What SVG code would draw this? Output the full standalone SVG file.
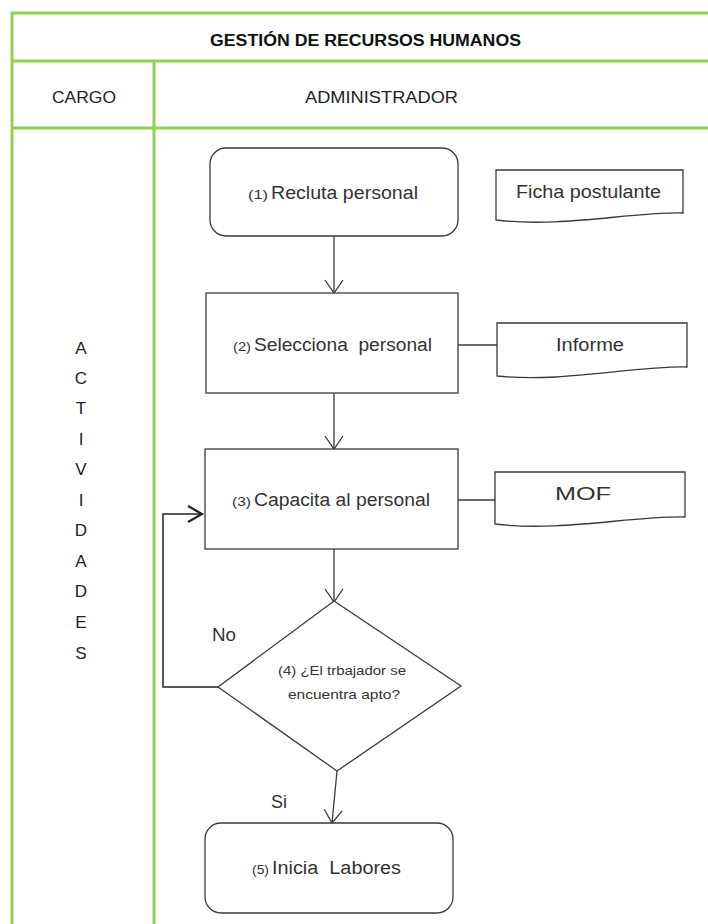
<svg xmlns="http://www.w3.org/2000/svg" width="708" height="924" viewBox="0 0 708 924">
  <style>
    .grid { stroke: #92D050; stroke-width: 3; fill: none; }
    .shape { fill: #ffffff; stroke: #3a3a3a; stroke-width: 1.3; }
    .flow { stroke: #3a3a3a; stroke-width: 1.3; fill: none; }
    .loop { stroke: #222; stroke-width: 1.5; fill: none; }
    .t { font-family: "Liberation Sans", Arial, sans-serif; fill: #333; }
    .lbl { font-size: 18px; }
    .num { font-size: 13px; }
    .head { font-size: 17px; fill: #222; }
    .title { font-size: 16px; font-weight: bold; fill: #111; }
    .dec { font-size: 13px; }
  </style>
  <defs>
    <marker id="vee" markerWidth="16" markerHeight="20" refX="14" refY="10" orient="auto" markerUnits="userSpaceOnUse">
      <path d="M1,1 L14,10 L1,19" fill="none" stroke="#3a3a3a" stroke-width="1.3"/>
    </marker>
    <marker id="vee-bold" markerWidth="18" markerHeight="20" refX="15" refY="10" orient="auto" markerUnits="userSpaceOnUse">
      <path d="M1,2 L15,10 L1,18" fill="none" stroke="#222" stroke-width="2.2"/>
    </marker>
  </defs>

  <rect width="708" height="924" fill="#ffffff"/>

  <!-- swimlane table -->
  <g id="table">
    <path class="grid" d="M12,924 V13 H708"/>
    <line class="grid" x1="12" y1="61" x2="708" y2="61"/>
    <line class="grid" x1="12" y1="128" x2="708" y2="128"/>
    <line class="grid" x1="154" y1="61" x2="154" y2="924"/>
    <text class="t title" x="210" y="46" textLength="311" lengthAdjust="spacingAndGlyphs">GESTIÓN DE RECURSOS HUMANOS</text>
    <text class="t head" x="52" y="103" textLength="64" lengthAdjust="spacingAndGlyphs">CARGO</text>
    <text class="t head" x="305" y="103" textLength="153" lengthAdjust="spacingAndGlyphs">ADMINISTRADOR</text>
    <g class="t head" text-anchor="middle">
      <text x="81" y="354">A</text>
      <text x="81" y="384">C</text>
      <text x="81" y="414">T</text>
      <text x="81" y="445">I</text>
      <text x="81" y="475">V</text>
      <text x="81" y="506">I</text>
      <text x="81" y="536">D</text>
      <text x="81" y="567">A</text>
      <text x="81" y="597">D</text>
      <text x="81" y="628">E</text>
      <text x="81" y="659">S</text>
    </g>
  </g>

  <!-- connectors -->
  <g id="connectors">
    <line class="flow" x1="334" y1="236" x2="334" y2="293" marker-end="url(#vee)"/>
    <line class="flow" x1="334" y1="393" x2="334" y2="449" marker-end="url(#vee)"/>
    <line class="flow" x1="334" y1="549" x2="334" y2="602" marker-end="url(#vee)"/>
    <line class="flow" x1="337" y1="771" x2="332" y2="823" marker-end="url(#vee)"/>
    <line class="flow" x1="458" y1="345" x2="497" y2="345"/>
    <line class="flow" x1="458" y1="500" x2="495" y2="500"/>
    <path class="loop" d="M218,687 H163 V514 H202" marker-end="url(#vee-bold)"/>
    <text class="t lbl" x="212" y="641" textLength="24" lengthAdjust="spacingAndGlyphs">No</text>
    <text class="t lbl" x="271" y="808" textLength="16" lengthAdjust="spacingAndGlyphs">Si</text>
  </g>

  <!-- (1) -->
  <g id="n1">
    <rect class="shape" x="210" y="148" width="248" height="88" rx="16"/>
    <text class="t num" x="248" y="199" textLength="20" lengthAdjust="spacingAndGlyphs">(1)</text>
    <text class="t lbl" x="271" y="199" textLength="147" lengthAdjust="spacingAndGlyphs">Recluta personal</text>
  </g>

  <!-- (2) -->
  <g id="n2">
    <rect class="shape" x="206" y="293" width="252" height="100"/>
    <text class="t num" x="233" y="351" textLength="18" lengthAdjust="spacingAndGlyphs">(2)</text>
    <text class="t lbl" x="254" y="351" textLength="178" lengthAdjust="spacingAndGlyphs" xml:space="preserve">Selecciona  personal</text>
  </g>

  <!-- (3) -->
  <g id="n3">
    <rect class="shape" x="205" y="449" width="253" height="100"/>
    <text class="t num" x="232" y="506" textLength="19" lengthAdjust="spacingAndGlyphs">(3)</text>
    <text class="t lbl" x="254" y="506" textLength="176" lengthAdjust="spacingAndGlyphs">Capacita al personal</text>
  </g>

  <!-- (4) decision -->
  <g id="n4">
    <polygon class="shape" points="334,601 461,686 337,771 218,687"/>
    <text class="t dec" x="278" y="675" textLength="128" lengthAdjust="spacingAndGlyphs">(4) ¿El trbajador se</text>
    <text class="t dec" x="288" y="699" textLength="112" lengthAdjust="spacingAndGlyphs">encuentra apto?</text>
  </g>

  <!-- (5) -->
  <g id="n5">
    <rect class="shape" x="205" y="823" width="248" height="90" rx="16"/>
    <text class="t num" x="252" y="874" textLength="17" lengthAdjust="spacingAndGlyphs">(5)</text>
    <text class="t lbl" x="272" y="874" textLength="129" lengthAdjust="spacingAndGlyphs" xml:space="preserve">Inicia  Labores</text>
  </g>

  <!-- documents -->
  <g id="doc-ficha">
    <path class="shape" d="M496,170 H683 V213 C630,212 560,228 496,220 Z"/>
    <text class="t lbl" x="516" y="198" textLength="145" lengthAdjust="spacingAndGlyphs">Ficha postulante</text>
  </g>
  <g id="doc-informe">
    <path class="shape" d="M497,323 H687 V367 C633,366 562,383 497,376 Z"/>
    <text class="t lbl" x="556" y="351" textLength="68" lengthAdjust="spacingAndGlyphs">Informe</text>
  </g>
  <g id="doc-mof">
    <path class="shape" d="M495,472 H685 V517 C631,516 560,532 495,524 Z"/>
    <text class="t lbl" x="555" y="500" textLength="56" lengthAdjust="spacingAndGlyphs">MOF</text>
  </g>
</svg>
